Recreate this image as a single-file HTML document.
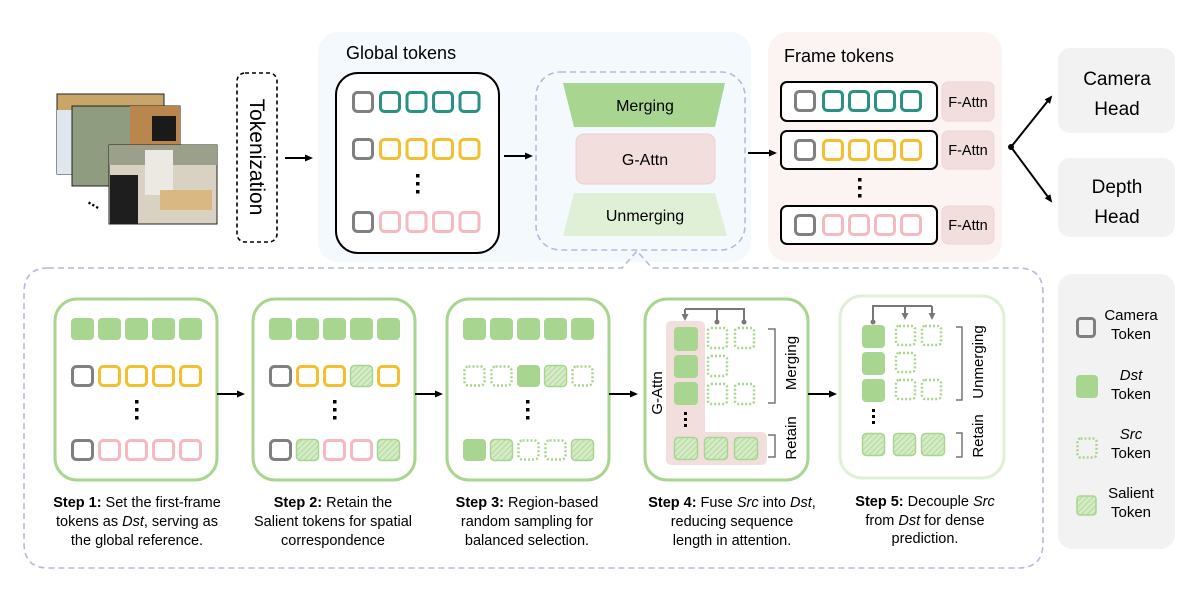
<!DOCTYPE html>
<html><head><meta charset="utf-8"><style>
html,body{margin:0;padding:0;background:#fff;}
svg{display:block;}
text{font-family:"Liberation Sans",sans-serif;}
</style></head><body>
<svg width="1202" height="598" viewBox="0 0 1202 598" xmlns="http://www.w3.org/2000/svg">
<defs>
<pattern id="hat" width="4" height="4" patternUnits="userSpaceOnUse" patternTransform="rotate(45)">
<rect width="4" height="4" fill="#d4ebc6"/><line x1="0" y1="0" x2="0" y2="4" stroke="#a8d58f" stroke-width="1.6"/>
</pattern>
<marker id="ar" markerWidth="8" markerHeight="8" refX="6" refY="4" orient="auto" markerUnits="userSpaceOnUse"><path d="M0,0.5 L8,4 L0,7.5 Z" fill="#000"/></marker>
<marker id="ag" markerWidth="7" markerHeight="7" refX="5" refY="3.5" orient="auto" markerUnits="userSpaceOnUse"><path d="M0,0 L7,3.5 L0,7 Z" fill="#777"/></marker>
</defs>

<!-- photos -->
<rect x="57" y="94" width="107" height="80" fill="#c9a56a" stroke="#222" stroke-width="1"/>
<rect x="57" y="110" width="20" height="64" fill="#dfe6ee"/>
<rect x="72" y="106" width="108" height="80" fill="#8f9c80" stroke="#222" stroke-width="1"/>
<rect x="130" y="106" width="50" height="65" fill="#b9874d"/>
<rect x="152" y="116" width="24" height="25" fill="#1a1a1a"/>
<rect x="109" y="145" width="108" height="79" fill="#d9d2c2" stroke="#222" stroke-width="1"/>
<rect x="109" y="145" width="108" height="20" fill="#9aa08a"/>
<rect x="145" y="150" width="28" height="45" fill="#ece9e2"/>
<rect x="110" y="175" width="28" height="49" fill="#1e1e1e"/>
<rect x="160" y="190" width="52" height="20" fill="#d9b981"/>
<text x="88" y="207" font-size="16" font-weight="bold" transform="rotate(30 95 203)">...</text>

<!-- tokenization -->
<rect x="237" y="73" width="40" height="169" rx="8" fill="#fff" stroke="#000" stroke-width="1.6" stroke-dasharray="4,3"/>
<text x="0" y="0" font-size="21" text-anchor="middle" transform="translate(250 157) rotate(90)">Tokenization</text>
<line x1="285" y1="158" x2="311" y2="158" stroke="#000" stroke-width="2" marker-end="url(#ar)"/>

<!-- Global panel -->
<rect x="318" y="32" width="433" height="230" rx="20" fill="#f3f9fd"/>
<text x="346" y="59" font-size="18">Global tokens</text>
<rect x="336" y="73" width="163" height="180" rx="22" fill="#fff" stroke="#000" stroke-width="2"/>
<g stroke-width="3" fill="none">
<rect x="353.5" y="92.5" width="19" height="19" rx="4" stroke="#808080"/>
<rect x="380.5" y="92.5" width="19" height="19" rx="4" stroke="#2a9282"/>
<rect x="407" y="92.5" width="19" height="19" rx="4" stroke="#2a9282"/>
<rect x="433.5" y="92.5" width="19" height="19" rx="4" stroke="#2a9282"/>
<rect x="460" y="92.5" width="19" height="19" rx="4" stroke="#2a9282"/>
<rect x="353.5" y="139.5" width="19" height="19" rx="4" stroke="#808080"/>
<rect x="380.5" y="139.5" width="19" height="19" rx="4" stroke="#f3bf2e"/>
<rect x="407" y="139.5" width="19" height="19" rx="4" stroke="#f3bf2e"/>
<rect x="433.5" y="139.5" width="19" height="19" rx="4" stroke="#f3bf2e"/>
<rect x="460" y="139.5" width="19" height="19" rx="4" stroke="#f3bf2e"/>
<rect x="353.5" y="212.5" width="19" height="19" rx="4" stroke="#808080"/>
<rect x="380.5" y="212.5" width="19" height="19" rx="4" stroke="#f6b9bf"/>
<rect x="407" y="212.5" width="19" height="19" rx="4" stroke="#f6b9bf"/>
<rect x="433.5" y="212.5" width="19" height="19" rx="4" stroke="#f6b9bf"/>
<rect x="460" y="212.5" width="19" height="19" rx="4" stroke="#f6b9bf"/>
</g>
<g fill="#000"><rect x="416" y="174" width="3.5" height="3.5"/><rect x="416" y="182" width="3.5" height="3.5"/><rect x="416" y="190" width="3.5" height="3.5"/></g>
<line x1="504" y1="156" x2="531" y2="156" stroke="#000" stroke-width="2" marker-end="url(#ar)"/>

<rect x="536" y="72" width="209" height="178" rx="24" fill="none" stroke="#b3b9e3" stroke-width="1.6" stroke-dasharray="6,4"/>
<polygon points="563,83 725,83 715,127 574,127" fill="#a8d58f"/>
<text x="645" y="111" font-size="16" text-anchor="middle">Merging</text>
<rect x="576" y="134" width="139" height="50" rx="8" fill="#f2dedd" stroke="#eccfcc"/>
<text x="645" y="165" font-size="16" text-anchor="middle">G-Attn</text>
<polygon points="574,193 715,193 727,236 563,236" fill="#dff0d6"/>
<text x="645" y="221" font-size="16" text-anchor="middle">Unmerging</text>

<!-- Frame panel -->
<rect x="768" y="32" width="234" height="230" rx="20" fill="#fcf3f3"/>
<line x1="748" y1="153" x2="775" y2="153" stroke="#000" stroke-width="2" marker-end="url(#ar)"/>
<text x="784" y="62" font-size="18">Frame tokens</text>
<g fill="#fff" stroke="#000" stroke-width="2">
<rect x="781" y="82" width="156" height="39" rx="6"/>
<rect x="781" y="131" width="156" height="38" rx="6"/>
<rect x="781" y="206" width="156" height="38" rx="6"/>
</g>
<g stroke-width="3" fill="none">
<rect x="795.5" y="91.5" width="19" height="19" rx="4" stroke="#808080"/>
<rect x="823.5" y="91.5" width="19" height="19" rx="4" stroke="#2a9282"/>
<rect x="849.5" y="91.5" width="19" height="19" rx="4" stroke="#2a9282"/>
<rect x="875.5" y="91.5" width="19" height="19" rx="4" stroke="#2a9282"/>
<rect x="901.5" y="91.5" width="19" height="19" rx="4" stroke="#2a9282"/>
<rect x="795.5" y="140.5" width="19" height="19" rx="4" stroke="#808080"/>
<rect x="823.5" y="140.5" width="19" height="19" rx="4" stroke="#f3bf2e"/>
<rect x="849.5" y="140.5" width="19" height="19" rx="4" stroke="#f3bf2e"/>
<rect x="875.5" y="140.5" width="19" height="19" rx="4" stroke="#f3bf2e"/>
<rect x="901.5" y="140.5" width="19" height="19" rx="4" stroke="#f3bf2e"/>
<rect x="795.5" y="215.5" width="19" height="19" rx="4" stroke="#808080"/>
<rect x="823.5" y="215.5" width="19" height="19" rx="4" stroke="#f6b9bf"/>
<rect x="849.5" y="215.5" width="19" height="19" rx="4" stroke="#f6b9bf"/>
<rect x="875.5" y="215.5" width="19" height="19" rx="4" stroke="#f6b9bf"/>
<rect x="901.5" y="215.5" width="19" height="19" rx="4" stroke="#f6b9bf"/>
</g>
<g fill="#000"><rect x="858" y="178" width="3.5" height="3.5"/><rect x="858" y="186" width="3.5" height="3.5"/><rect x="858" y="194" width="3.5" height="3.5"/></g>
<g fill="#f2dedd" stroke="#efd5d2"><rect x="942" y="82" width="52" height="39" rx="6"/><rect x="942" y="131" width="52" height="38" rx="6"/><rect x="942" y="206" width="52" height="38" rx="6"/></g>
<g font-size="14.5" text-anchor="middle"><text x="968" y="107">F-Attn</text><text x="968" y="155">F-Attn</text><text x="968" y="230">F-Attn</text></g>

<circle cx="1011" cy="147" r="3" fill="#000"/>
<line x1="1011" y1="147" x2="1051" y2="97" stroke="#000" stroke-width="2" marker-end="url(#ar)"/>
<line x1="1011" y1="147" x2="1051" y2="201" stroke="#000" stroke-width="2" marker-end="url(#ar)"/>
<rect x="1058" y="48" width="117" height="85" rx="12" fill="#f2f2f2"/>
<text x="1117" y="85" font-size="19" text-anchor="middle">Camera</text>
<text x="1117" y="115" font-size="19" text-anchor="middle">Head</text>
<rect x="1058" y="158" width="117" height="79" rx="12" fill="#f2f2f2"/>
<text x="1117" y="193" font-size="19" text-anchor="middle">Depth</text>
<text x="1117" y="223" font-size="19" text-anchor="middle">Head</text>

<!-- lower callout -->
<path d="M48,268 L622,268 L637,251 L652,268 L1018,268 Q1043,268 1043,293 L1043,543 Q1043,568 1018,568 L48,568 Q24,568 24,543 L24,293 Q24,268 48,268 Z" fill="none" stroke="#b3b9e3" stroke-width="1.6" stroke-dasharray="6,4"/>

<!-- legend -->
<rect x="1058" y="274" width="117" height="275" rx="14" fill="#f2f2f2"/>
<rect x="1077.5" y="318.5" width="17" height="18" rx="3" fill="none" stroke="#808080" stroke-width="3"/>
<g font-size="15" text-anchor="middle">
<text x="1131" y="320">Camera</text><text x="1131" y="339">Token</text>
<text x="1131" y="380" font-style="italic">Dst</text><text x="1131" y="399">Token</text>
<text x="1131" y="439" font-style="italic">Src</text><text x="1131" y="458">Token</text>
<text x="1131" y="498">Salient</text><text x="1131" y="517">Token</text>
</g>
<rect x="1076" y="375" width="22" height="23" rx="4" fill="#a8d58f"/>
<rect x="1077.5" y="438.5" width="19" height="19" rx="3" fill="none" stroke="#a8d58f" stroke-width="2.5" stroke-dasharray="2,2"/>
<rect x="1077" y="496" width="19" height="19" rx="3" fill="url(#hat)" stroke="#a8d58f" stroke-width="1.5"/>

<!-- step boxes -->
<g fill="none" stroke="#a8d58f" stroke-width="3">
<rect x="55" y="299" width="162" height="181" rx="22"/>
<rect x="253" y="299" width="162" height="181" rx="22"/>
<rect x="447" y="299" width="162" height="181" rx="22"/>
<rect x="645" y="299" width="163" height="181" rx="22"/>
<rect x="840" y="296" width="164" height="182" rx="22" stroke="#dff0d6"/>
</g>
<g stroke="#000" stroke-width="2">
<line x1="217" y1="394" x2="243" y2="394" marker-end="url(#ar)"/>
<line x1="415" y1="394" x2="441" y2="394" marker-end="url(#ar)"/>
<line x1="609" y1="394" x2="636" y2="394" marker-end="url(#ar)"/>
<line x1="808" y1="394" x2="835" y2="394" marker-end="url(#ar)"/>
</g>

<!-- step tokens -->
<g fill="#a8d58f">
<rect x="71" y="318" width="23" height="22" rx="4"/><rect x="98" y="318" width="23" height="22" rx="4"/><rect x="125" y="318" width="23" height="22" rx="4"/><rect x="152" y="318" width="23" height="22" rx="4"/><rect x="179" y="318" width="23" height="22" rx="4"/>
<rect x="269" y="318" width="23" height="22" rx="4"/><rect x="296" y="318" width="23" height="22" rx="4"/><rect x="323" y="318" width="23" height="22" rx="4"/><rect x="350" y="318" width="23" height="22" rx="4"/><rect x="377" y="318" width="23" height="22" rx="4"/>
<rect x="463" y="318" width="23" height="22" rx="4"/><rect x="490" y="318" width="23" height="22" rx="4"/><rect x="517" y="318" width="23" height="22" rx="4"/><rect x="544" y="318" width="23" height="22" rx="4"/><rect x="571" y="318" width="23" height="22" rx="4"/>
<rect x="517" y="365" width="23" height="22" rx="4"/>
<rect x="463" y="439" width="23" height="22" rx="4"/>
</g>
<g fill="none" stroke-width="3">
<rect x="72.5" y="366.5" width="20" height="19" rx="4" stroke="#808080"/>
<rect x="99.5" y="366.5" width="20" height="19" rx="4" stroke="#f3bf2e"/>
<rect x="126.5" y="366.5" width="20" height="19" rx="4" stroke="#f3bf2e"/>
<rect x="153.5" y="366.5" width="20" height="19" rx="4" stroke="#f3bf2e"/>
<rect x="180.5" y="366.5" width="20" height="19" rx="4" stroke="#f3bf2e"/>
<rect x="72.5" y="440.5" width="20" height="19" rx="4" stroke="#808080"/>
<rect x="99.5" y="440.5" width="20" height="19" rx="4" stroke="#f6b9bf"/>
<rect x="126.5" y="440.5" width="20" height="19" rx="4" stroke="#f6b9bf"/>
<rect x="153.5" y="440.5" width="20" height="19" rx="4" stroke="#f6b9bf"/>
<rect x="180.5" y="440.5" width="20" height="19" rx="4" stroke="#f6b9bf"/>
<rect x="270.5" y="366.5" width="20" height="19" rx="4" stroke="#808080"/>
<rect x="297.5" y="366.5" width="20" height="19" rx="4" stroke="#f3bf2e"/>
<rect x="324.5" y="366.5" width="20" height="19" rx="4" stroke="#f3bf2e"/>
<rect x="378.5" y="366.5" width="20" height="19" rx="4" stroke="#f3bf2e"/>
<rect x="270.5" y="440.5" width="20" height="19" rx="4" stroke="#808080"/>
<rect x="324.5" y="440.5" width="20" height="19" rx="4" stroke="#f6b9bf"/>
<rect x="351.5" y="440.5" width="20" height="19" rx="4" stroke="#f6b9bf"/>
</g>
<g fill="url(#hat)" stroke="#a8d58f" stroke-width="1.5">
<rect x="350.5" y="365.5" width="22" height="21" rx="4"/>
<rect x="296.5" y="439.5" width="22" height="21" rx="4"/>
<rect x="377.5" y="439.5" width="22" height="21" rx="4"/>
<rect x="544.5" y="365.5" width="22" height="21" rx="4"/>
<rect x="490.5" y="439.5" width="22" height="21" rx="4"/>
<rect x="571.5" y="439.5" width="22" height="21" rx="4"/>
</g>
<g fill="none" stroke="#a8d58f" stroke-width="2.5" stroke-dasharray="2,2">
<rect x="464.5" y="366.5" width="20" height="19" rx="4"/>
<rect x="491.5" y="366.5" width="20" height="19" rx="4"/>
<rect x="572.5" y="366.5" width="20" height="19" rx="4"/>
<rect x="518.5" y="440.5" width="20" height="19" rx="4"/>
<rect x="545.5" y="440.5" width="20" height="19" rx="4"/>
</g>
<g fill="#000">
<rect x="135" y="400" width="3.5" height="3.5"/><rect x="135" y="408" width="3.5" height="3.5"/><rect x="135" y="416" width="3.5" height="3.5"/>
<rect x="333" y="400" width="3.5" height="3.5"/><rect x="333" y="408" width="3.5" height="3.5"/><rect x="333" y="416" width="3.5" height="3.5"/>
<rect x="526" y="400" width="3.5" height="3.5"/><rect x="526" y="408" width="3.5" height="3.5"/><rect x="526" y="416" width="3.5" height="3.5"/>
</g>

<!-- step4 -->
<path d="M672,321 L699,321 Q705,321 705,327 L705,432 L761,432 Q767,432 767,438 L767,459 Q767,465 761,465 L672,465 Q666,465 666,459 L666,327 Q666,321 672,321 Z" fill="#f2dedd"/>
<g fill="#a8d58f"><rect x="674" y="327" width="24" height="24" rx="4"/><rect x="674" y="355" width="24" height="23" rx="4"/><rect x="674" y="382" width="24" height="23" rx="4"/></g>
<g fill="none" stroke="#a8d58f" stroke-width="2.5" stroke-dasharray="2,2">
<rect x="708" y="328" width="19" height="20" rx="3"/><rect x="735" y="328" width="19" height="20" rx="3"/>
<rect x="708" y="356" width="19" height="20" rx="3"/>
<rect x="708" y="384" width="19" height="20" rx="3"/><rect x="735" y="384" width="19" height="20" rx="3"/>
</g>
<g fill="url(#hat)" stroke="#a8d58f" stroke-width="1.5">
<rect x="674.5" y="437.5" width="23" height="22" rx="4"/><rect x="704.5" y="437.5" width="23" height="22" rx="4"/><rect x="734.5" y="437.5" width="23" height="22" rx="4"/>
</g>
<g fill="#000"><rect x="684" y="412" width="3" height="3"/><rect x="684" y="418" width="3" height="3"/><rect x="684" y="424" width="3" height="3"/></g>
<g stroke="#777" stroke-width="2" fill="none">
<polyline points="717,322 717,309 744,309 744,322"/>
<line x1="717" y1="309" x2="685" y2="309"/>
<line x1="685" y1="309" x2="685" y2="319" marker-end="url(#ag)"/>
</g>
<circle cx="717" cy="322" r="2.5" fill="#777"/><circle cx="744" cy="322" r="2.5" fill="#777"/>
<text x="0" y="0" font-size="15" text-anchor="middle" transform="translate(662 393) rotate(-90)">G-Attn</text>
<polyline points="768,329 775,329 775,403 768,403" fill="none" stroke="#777" stroke-width="1.5"/>
<text x="0" y="0" font-size="15" text-anchor="middle" transform="translate(796 363) rotate(-90)">Merging</text>
<polyline points="768,435 775,435 775,457 768,457" fill="none" stroke="#777" stroke-width="1.5"/>
<text x="0" y="0" font-size="15" text-anchor="middle" transform="translate(796 438) rotate(-90)">Retain</text>

<!-- step5 -->
<g fill="#a8d58f"><rect x="862" y="325" width="23" height="23" rx="4"/><rect x="862" y="352" width="23" height="23" rx="4"/><rect x="862" y="379" width="23" height="23" rx="4"/></g>
<g fill="none" stroke="#a8d58f" stroke-width="2.5" stroke-dasharray="2,2">
<rect x="896" y="326" width="19" height="19" rx="3"/><rect x="922" y="326" width="19" height="19" rx="3"/>
<rect x="896" y="353" width="19" height="19" rx="3"/>
<rect x="896" y="380" width="19" height="19" rx="3"/><rect x="922" y="380" width="19" height="19" rx="3"/>
</g>
<g fill="url(#hat)" stroke="#a8d58f" stroke-width="1.5">
<rect x="862.5" y="433.5" width="22" height="22" rx="4"/><rect x="893.5" y="433.5" width="22" height="22" rx="4"/><rect x="921.5" y="433.5" width="23" height="22" rx="4"/>
</g>
<g fill="#000"><rect x="872" y="409" width="3" height="3"/><rect x="872" y="415" width="3" height="3"/><rect x="872" y="421" width="3" height="3"/></g>
<g stroke="#777" stroke-width="2" fill="none">
<polyline points="873,322 873,306 932,306"/>
<line x1="905" y1="306" x2="905" y2="318" marker-end="url(#ag)"/>
<line x1="932" y1="306" x2="932" y2="318" marker-end="url(#ag)"/>
</g>
<circle cx="873" cy="322" r="2.5" fill="#777"/>
<polyline points="956,327 962,327 962,400 956,400" fill="none" stroke="#777" stroke-width="1.5"/>
<text x="0" y="0" font-size="15" text-anchor="middle" transform="translate(983 362) rotate(-90)">Unmerging</text>
<polyline points="956,433 962,433 962,457 956,457" fill="none" stroke="#777" stroke-width="1.5"/>
<text x="0" y="0" font-size="15" text-anchor="middle" transform="translate(983 436) rotate(-90)">Retain</text>

<!-- step captions -->
<g font-size="14.5" text-anchor="middle">
<text x="137" y="507"><tspan font-weight="bold">Step 1:</tspan> Set the first-frame</text>
<text x="137" y="526">tokens as <tspan font-style="italic">Dst</tspan>, serving as</text>
<text x="137" y="545">the global reference.</text>
<text x="333" y="507"><tspan font-weight="bold">Step 2:</tspan> Retain the</text>
<text x="333" y="526">Salient tokens for spatial</text>
<text x="333" y="545">correspondence</text>
<text x="527" y="507"><tspan font-weight="bold">Step 3:</tspan> Region-based</text>
<text x="527" y="526">random sampling for</text>
<text x="527" y="545">balanced selection.</text>
<text x="732" y="507"><tspan font-weight="bold">Step 4:</tspan> Fuse <tspan font-style="italic">Src</tspan> into <tspan font-style="italic">Dst</tspan>,</text>
<text x="732" y="526">reducing sequence</text>
<text x="732" y="545">length in attention.</text>
<text x="925" y="506"><tspan font-weight="bold">Step 5:</tspan> Decouple <tspan font-style="italic">Src</tspan></text>
<text x="925" y="525">from <tspan font-style="italic">Dst</tspan> for dense</text>
<text x="925" y="543">prediction.</text>
</g>
</svg>
</body></html>
